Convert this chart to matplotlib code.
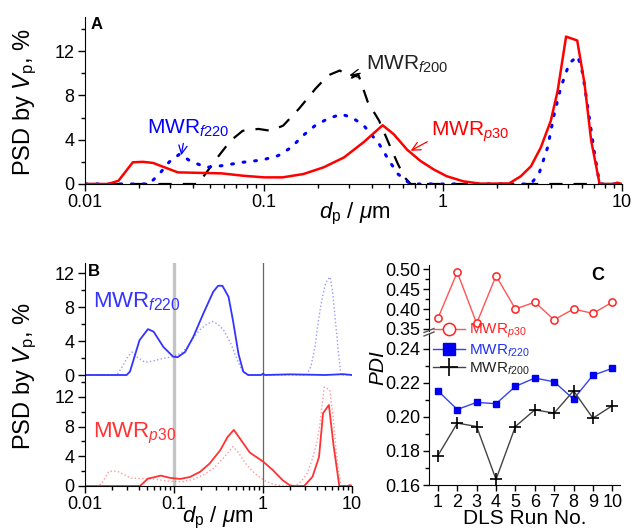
import numpy as np
import matplotlib.pyplot as plt
from matplotlib.ticker import FixedLocator, FuncFormatter, LogLocator, MultipleLocator, NullFormatter

plt.rcParams['font.family'] = ['Liberation Sans', 'DejaVu Sans']
plt.rcParams['mathtext.fontset'] = 'custom'
plt.rcParams['mathtext.rm'] = 'Liberation Sans'
plt.rcParams['mathtext.it'] = 'Liberation Sans:italic'
plt.rcParams['font.size'] = 12
plt.rcParams['xtick.direction'] = 'out'
plt.rcParams['ytick.direction'] = 'out'

#region PSD data (d in um, PSD in %)
# MWR f200, dashed black
d_f200 = [0.01, 0.0426, 0.047, 0.055, 0.065, 0.076, 0.093, 0.109, 0.128, 0.157, 0.194, 0.228,
          0.265, 0.31, 0.336, 0.38, 0.44, 0.50, 0.56, 0.61, 0.66, 4.6, 5.0, 5.4, 10]
v_f200 = [0, 0, 0.9, 2.4, 3.9, 4.8, 4.97, 4.8, 5.27, 6.8, 8.6, 9.8,
          10.24, 9.6, 9.9, 7.4, 5.7, 3.6, 1.8, 0.6, 0, 0, 0.12, 0, 0]

# MWR f220, dotted blue
d_f220 = [0.01, 0.0228, 0.026, 0.0296, 0.0338, 0.0385, 0.0474, 0.058, 0.076, 0.098, 0.12, 0.142,
          0.166, 0.194, 0.228, 0.27, 0.31, 0.36, 0.44, 0.50, 0.56, 0.64, 0.71, 3.1, 3.45, 3.84,
          4.18, 4.56, 5.08, 5.66, 6.03, 6.44, 7.03, 7.5, 10]
v_f220 = [0, 0, 0.9, 2.0, 2.7, 2.1, 1.5, 1.65, 1.96, 2.17, 2.56, 3.3,
          4.4, 5.3, 5.9, 6.3, 6.0, 5.3, 3.6, 2.1, 0.9, 0.15, 0, 0, 1.0, 3.3,
          6.3, 8.75, 10.9, 11.55, 10.0, 6.9, 2.7, 0, 0]

# MWR p30, solid red
d_p30 = [0.01, 0.0135, 0.0154, 0.0185, 0.0211, 0.024, 0.033, 0.045, 0.058, 0.076, 0.1, 0.127,
         0.166, 0.215, 0.28, 0.36, 0.46, 0.53, 0.63, 0.75, 0.89, 1.05, 1.3, 1.62, 2.34, 2.72,
         3.1, 3.52, 4.0, 4.37, 4.87, 5.62, 6.17, 6.73, 7.5, 9.0, 9.4, 10]
v_p30 = [0, 0, 0.3, 1.96, 2.0, 1.9, 1.05, 1.0, 0.96, 0.75, 0.6, 0.6,
         0.9, 1.5, 2.4, 3.77, 5.3, 4.5, 3.1, 2.07, 1.3, 0.7, 0.24, 0.03, 0.05, 0.7,
         1.6, 3.3, 5.7, 8.4, 13.3, 12.95, 9.1, 3.9, 0, 0, 0.12, 0]

# second runs shown in panel B
d_f220b = [0.01, 0.0294, 0.032, 0.041, 0.051, 0.059, 0.076, 0.098, 0.11, 0.133, 0.165, 0.213,
           0.276, 0.313, 0.35, 0.41, 0.46, 0.53, 0.60, 0.68, 0.95, 1.0, 1.05, 2.0, 5.0, 8.0, 10]
v_f220b = [0, 0, 0.4, 4.1, 5.4, 5.1, 3.3, 2.15, 2.1, 2.7, 4.5, 7.2,
           9.8, 10.5, 10.5, 9.2, 6.4, 2.5, 0.4, 0, 0, 0.15, 0, 0.08, 0, 0.1, 0]
d_p30b = [0.01, 0.0415, 0.051, 0.061, 0.071, 0.09, 0.117, 0.15, 0.196, 0.25, 0.33, 0.40,
          0.47, 0.55, 0.71, 1.0, 1.3, 1.67, 2.0, 2.2, 2.9, 3.6, 4.26, 4.73, 5.5, 6.2,
          7.2, 9.0, 9.5, 10]
v_p30b = [0, 0, 1.0, 1.2, 1.4, 1.1, 0.95, 1.2, 1.9, 3.0, 4.8, 6.6,
          7.55, 6.4, 4.5, 3.3, 2.1, 0.76, 0.1, 0, 0, 1.25, 3.9, 9.8, 10.9, 5.5,
          0, 0, 0.12, 0]
#endregion

#region PDI per DLS run
runs = np.arange(1, 11)
pdi_p30 = [0.377, 0.492, 0.364, 0.483, 0.400, 0.417, 0.373, 0.400, 0.389, 0.417]
pdi_f220 = [0.2154, 0.2044, 0.2086, 0.2078, 0.2180, 0.2229, 0.2207, 0.2105, 0.2245, 0.2286]
pdi_f200 = [0.1773, 0.1964, 0.1944, 0.1633, 0.1944, 0.2042, 0.2023, 0.2154, 0.1993, 0.2066]
#endregion

lab_p30 = r'MWR$_{\mathit{p30}}$'
lab_f220 = r'MWR$_{\mathit{f220}}$'
lab_f200 = r'MWR$_{\mathit{f200}}$'
ylab = r'PSD by $\mathit{V}_{\mathrm{p}}$, %'
xlab = r'$\mathit{d}_{\mathrm{p}}$ / $\mu$m'

W, H = 633, 530
fig = plt.figure(figsize=(W / 100, H / 100), dpi=100)


def box(x0, y0, x1, y1):
    # pixel box (top-left origin) -> figure fraction rect
    return [x0 / W, 1 - y1 / H, (x1 - x0) / W, (y1 - y0) / H]


def log_axis(ax, labels=True):
    ax.set_xscale('log')
    ax.set_xlim(0.01, 10)
    ax.xaxis.set_major_locator(FixedLocator([0.01, 0.1, 1, 10]))
    ax.xaxis.set_minor_locator(LogLocator(base=10, subs=np.arange(2, 10)))
    ax.xaxis.set_minor_formatter(NullFormatter())
    if labels:
        ax.xaxis.set_major_formatter(FuncFormatter(lambda v, p: '%g' % v))


def plain(ax, length=5):
    ax.spines['top'].set_visible(False)
    ax.spines['right'].set_visible(False)
    ax.tick_params(which='major', length=length, width=1, labelsize=13, pad=2.5)
    ax.tick_params(which='minor', length=3, width=1)


# Panel A
axA = fig.add_axes(box(85, 17, 622, 184))
plain(axA)
log_axis(axA)
axA.plot(d_f200, v_f200, color='black', lw=1.6, ls=(0, (6, 5)))
axA.plot(d_f220, v_f220, color='#0000ff', lw=2.2, ls=(0, (0.6, 3.2)), dash_capstyle='round')
axA.plot(d_p30, v_p30, color='#ff0000', lw=1.8)
axA.set_ylim(0, 15.07)
axA.yaxis.set_major_locator(MultipleLocator(4))
axA.yaxis.set_minor_locator(MultipleLocator(2))
axA.text(0.0108, 14.4, 'A', fontsize=12, fontweight='bold', va='center')
axA.annotate(lab_f200, xy=(0.30, 9.8), xytext=(0.37, 10.8), fontsize=15, color='#222222',
             va='center', arrowprops=dict(arrowstyle='->', color='black', lw=0.9, shrinkA=2, shrinkB=0))
axA.annotate(lab_f220, xy=(0.0345, 2.6), xytext=(0.0222, 5.0), fontsize=15, color='#0000ff',
             va='center', arrowprops=dict(arrowstyle='->', color='#0000ff', lw=0.9,
                                          relpos=(0.45, 0), shrinkA=1, shrinkB=0))
axA.annotate(lab_p30, xy=(0.66, 3.0), xytext=(0.86, 4.67), fontsize=15, color='#ff0000',
             va='center', arrowprops=dict(arrowstyle='->', color='#ff0000', lw=0.9,
                                          relpos=(0, 0.2), shrinkA=1, shrinkB=0))
fig.text(25 / W, 1 - 102 / H, ylab, rotation=90, fontsize=17, ha='center', va='center')
fig.text(355 / W, 1 - 214 / H, xlab, fontsize=16, ha='center', va='center')

# Panel B, top: f220 runs
axBt = fig.add_axes(box(85, 263, 352, 379))
plain(axBt)
log_axis(axBt, labels=False)
axBt.spines['bottom'].set_visible(False)
axBt.tick_params(axis='x', which='both', bottom=False, labelbottom=False)
axBt.plot(d_f220, v_f220, color='#4444ff', lw=1.0, ls=':', alpha=0.55)
axBt.plot(d_f220b, v_f220b, color='#3333ff', lw=1.3)
axBt.set_ylim(-0.47, 13.18)
axBt.yaxis.set_major_locator(MultipleLocator(4))
axBt.yaxis.set_minor_locator(MultipleLocator(2))
axBt.text(0.0108, 12.2, 'B', fontsize=12, fontweight='bold', va='center')
axBt.text(0.0124, 8.6, lab_f220, fontsize=16, color='#3333ff', va='center')

# Panel B, bottom: p30 runs
axBb = fig.add_axes(box(85, 379, 352, 486))
plain(axBb)
log_axis(axBb)
axBb.plot(d_p30, v_p30, color='#ff4444', lw=1.0, ls=':', alpha=0.55)
axBb.plot(d_p30b, v_p30b, color='#ff3333', lw=1.3)
axBb.set_ylim(0, 14.4)
axBb.yaxis.set_major_locator(MultipleLocator(4))
axBb.yaxis.set_minor_locator(MultipleLocator(2))
axBb.text(0.0124, 7.05, lab_p30, fontsize=16, color='#ff3333', va='center')
for ax in (axBt, axBb):
    ax.axvline(0.1, color='#c4c4c4', lw=2.4, zorder=0)
    ax.axvline(1, color='#666666', lw=0.9, zorder=0)
fig.text(25 / W, 1 - 376 / H, ylab, rotation=90, fontsize=17, ha='center', va='center')
fig.text(218 / W, 1 - 518 / H, xlab, fontsize=16, ha='center', va='center')

# Panel C: PDI with a broken y axis
axCt = fig.add_axes(box(429, 265, 620, 331))
axCb = fig.add_axes(box(429, 333, 620, 485))
for ax in (axCt, axCb):
    plain(ax, length=4)
    ax.set_xlim(0.54, 10.4)
axCt.spines['bottom'].set_visible(False)
axCt.tick_params(axis='x', which='both', bottom=False, labelbottom=False)
axCt.set_ylim(0.345, 0.51)
axCt.yaxis.set_major_locator(MultipleLocator(0.05))
axCt.yaxis.set_minor_locator(MultipleLocator(0.025))
axCt.yaxis.set_major_formatter(FuncFormatter(lambda v, p: '%.2f' % v))
axCb.set_ylim(0.16, 0.2494)
axCb.yaxis.set_major_locator(MultipleLocator(0.02))
axCb.yaxis.set_minor_locator(MultipleLocator(0.01))
axCb.yaxis.set_major_formatter(FuncFormatter(lambda v, p: '%.2f' % v))
axCb.xaxis.set_major_locator(FixedLocator(runs))

axCt.plot(runs, pdi_p30, color='#ff5555', lw=1.0, marker='o', ms=5.2,
          mfc='white', mec='#ff2222', mew=1.1)
h_p30, = axCb.plot([], [], color='#ff5555', lw=1.0, marker='o', ms=5.2,
                   mfc='white', mec='#ff2222', mew=1.1, label=lab_p30)
h_f220, = axCb.plot(runs, pdi_f220, color='#3344ee', lw=1.0, marker='s', ms=5,
                    mfc='#0000ee', mec='#0000ee', label=lab_f220)
h_f200, = axCb.plot(runs, pdi_f200, color='#444444', lw=1.0, marker='+', ms=8,
                    mec='black', mew=1.2, label=lab_f200)
axCt.text(9.26, 0.485, 'C', fontsize=13, fontweight='bold', ha='center', va='center')
leg = fig.legend(handles=[h_p30, h_f220, h_f200], loc='upper left',
                 bbox_to_anchor=(433 / W, 1 - 322 / H), frameon=False, fontsize=11,
                 markerscale=1.7, handlelength=2.1, handletextpad=0.25, labelspacing=0.12,
                 borderaxespad=0, borderpad=0)
for t, c in zip(leg.get_texts(), ['#ff2222', '#2233ee', '#222222']):
    t.set_color(c)

# break marks on the PDI axis
for yy in (330.5, 334):
    fig.add_artist(plt.Line2D([424 / W, 434 / W], [1 - (yy + 2) / H, 1 - (yy - 2) / H],
                              color='#555555', lw=1))
fig.text(378 / W, 1 - 368 / H, 'PDI', rotation=90, fontsize=15, style='italic',
         ha='center', va='center')
fig.text(525 / W, 1 - 519 / H, 'DLS Run No.', fontsize=15, ha='center', va='center')

fig.savefig('out.png', dpi=100)
